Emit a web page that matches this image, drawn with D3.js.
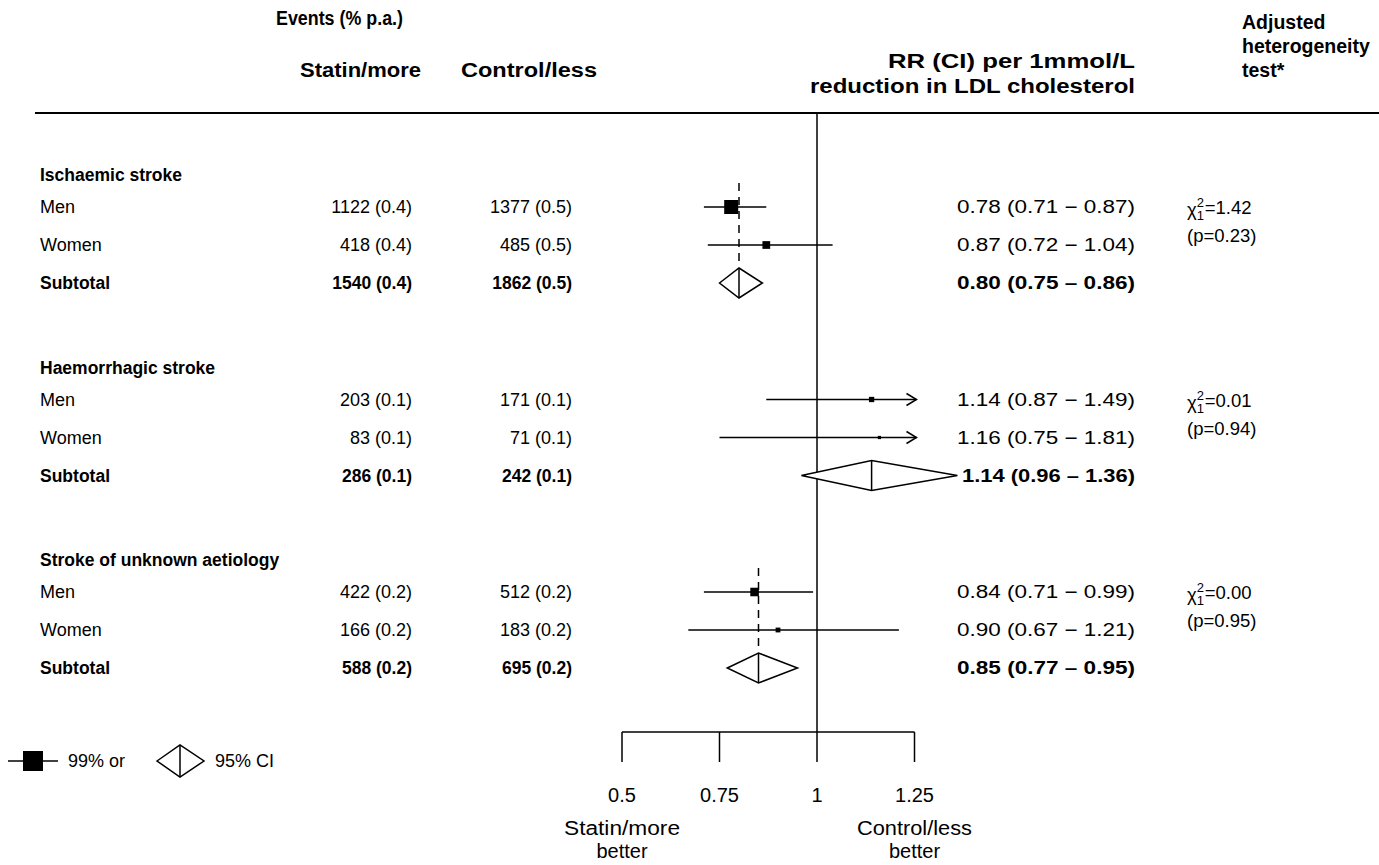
<!DOCTYPE html>
<html>
<head>
<meta charset="utf-8">
<script src="https://cdn.jsdelivr.net/npm/d3@7"></script>
<style>
  html, body { margin: 0; padding: 0; background: #fff; }
  svg { display: block; font-family: "Liberation Sans", Arial, sans-serif; }
</style>
</head>
<body>
<svg id="chart" width="1379" height="865"></svg>
<script>
// ---------------- data ----------------
const groups = ["Ischaemic stroke", "Haemorrhagic stroke", "Stroke of unknown aetiology"];
const rowLabels = ["Men", "Women", "Subtotal"];

const statinEvents = [[1122, 418, 1540], [203, 83, 286], [422, 166, 588]];
const statinPct    = [[0.4, 0.4, 0.4], [0.1, 0.1, 0.1], [0.2, 0.2, 0.2]];
const controlEvents = [[1377, 485, 1862], [171, 71, 242], [512, 183, 695]];
const controlPct    = [[0.5, 0.5, 0.5], [0.1, 0.1, 0.1], [0.2, 0.2, 0.2]];

const rrEst = [[0.78, 0.87, 0.80], [1.14, 1.16, 1.14], [0.84, 0.90, 0.85]];
const rrLow = [[0.71, 0.72, 0.75], [0.87, 0.75, 0.96], [0.71, 0.67, 0.77]];
const rrHigh = [[0.87, 1.04, 0.86], [1.49, 1.81, 1.36], [0.99, 1.21, 0.95]];
const showDashed = [true, false, true];

const hetChi2 = ["1.42", "0.01", "0.00"];
const hetP = ["0.23", "0.94", "0.95"];

const axisTicks = [0.5, 0.75, 1, 1.25];
const axisTickLabels = ["0.5", "0.75", "1", "1.25"];

// ---------------- layout ----------------
const svg = d3.select("#chart");
const x = d3.scaleLinear().domain([0.5, 1.25]).range([622, 914.5]);
const xMax = 1.25;
const groupTop = d3.scaleLinear().domain([0, 1]).range([175, 367.5]);
const rowOffset = [32, 70, 108];
const rowY = (g, i) => groupTop(g) + rowOffset[i];
// box side proportional to 1/SE (SE from log CI width)
const boxSide = d3.scaleLinear().domain([0, 1 / Math.log(0.87 / 0.71)]).range([0, 14]);

const FS = 17.5;
const fmt1 = d3.format(".1f");

// helper: text stretched to a given width
function stretch(sel, w) {
  return sel.attr("textLength", w).attr("lengthAdjust", "spacingAndGlyphs");
}

// header
const hdr = svg.append("g").attr("font-weight", "bold").attr("fill", "#000");
stretch(hdr.append("text").attr("x", 276).attr("y", 25).attr("font-size", 20).text("Events (% p.a.)"), 127);
stretch(hdr.append("text").attr("x", 300).attr("y", 77).attr("font-size", 19.5).text("Statin/more"), 121);
stretch(hdr.append("text").attr("x", 461).attr("y", 77).attr("font-size", 19.5).text("Control/less"), 136);
stretch(hdr.append("text").attr("x", 888).attr("y", 68).attr("font-size", 19.5).text("RR (CI) per 1mmol/L"), 247);
stretch(hdr.append("text").attr("x", 810).attr("y", 93).attr("font-size", 19.5).text("reduction in LDL cholesterol"), 325);
hdr.append("text").attr("x", 1242).attr("y", 29).attr("font-size", 19.5).text("Adjusted");
hdr.append("text").attr("x", 1242).attr("y", 53).attr("font-size", 19.5).text("heterogeneity");
hdr.append("text").attr("x", 1242).attr("y", 77).attr("font-size", 19.5).text("test*");

svg.append("line").attr("x1", 35).attr("x2", 1379).attr("y1", 113).attr("y2", 113)
  .attr("stroke", "#000").attr("stroke-width", 2);

const axisY = 732;
// reference line at 1
svg.append("line").attr("x1", x(1)).attr("x2", x(1)).attr("y1", 113).attr("y2", axisY)
  .attr("stroke", "#000").attr("stroke-width", 1.5);

// rows
groups.forEach((gName, g) => {
  const gy = groupTop(g);
  svg.append("text").attr("x", 40).attr("y", gy + 6).attr("font-size", FS).attr("font-weight", "bold").text(gName);

  rowLabels.forEach((lab, i) => {
    const y = rowY(g, i);
    const bold = i === 2 ? "bold" : "normal";
    const fs = i === 2 ? FS : 18;
    const t = svg.append("g").attr("font-size", fs).attr("font-weight", bold);
    t.append("text").attr("x", 40).attr("y", y + 6).text(lab);
    t.append("text").attr("x", 412).attr("y", y + 6).attr("text-anchor", "end")
      .text(`${statinEvents[g][i]} (${fmt1(statinPct[g][i])})`);
    t.append("text").attr("x", 572).attr("y", y + 6).attr("text-anchor", "end")
      .text(`${controlEvents[g][i]} (${fmt1(controlPct[g][i])})`);
    const dash = i === 2 ? "\u2013" : "\u2212";
    const rrW = (g === 1 && i === 2) ? 173 : 178;
    stretch(t.append("text").attr("x", 1135 - rrW).attr("y", y + 6).attr("font-size", 18)
      .text(`${rrEst[g][i].toFixed(2)} (${rrLow[g][i].toFixed(2)} ${dash} ${rrHigh[g][i].toFixed(2)})`), rrW);

    if (i < 2) {
      const lo = rrLow[g][i], hi = rrHigh[g][i];
      const clipped = hi > xMax;
      const xr = clipped ? x(xMax) + 2 : x(hi);
      svg.append("line").attr("x1", x(lo)).attr("x2", xr).attr("y1", y).attr("y2", y)
        .attr("stroke", "#000").attr("stroke-width", 1.5);
      if (clipped) {
        svg.append("path").attr("d", `M${xr - 10},${y - 6} L${xr},${y} L${xr - 10},${y + 6}`)
          .attr("fill", "none").attr("stroke", "#000").attr("stroke-width", 1.5);
      }
      const s = boxSide(1 / Math.log(hi / lo));
      svg.append("rect").attr("x", x(rrEst[g][i]) - s / 2).attr("y", y - s / 2)
        .attr("width", s).attr("height", s).attr("fill", "#000");
    } else {
      const cx = x(rrEst[g][i]), h = 15;
      svg.append("path")
        .attr("d", `M${x(rrLow[g][i])},${y} L${cx},${y - h} L${x(rrHigh[g][i])},${y} L${cx},${y + h} Z`)
        .attr("fill", "#fff").attr("stroke", "#000").attr("stroke-width", 1.5);
      svg.append("line").attr("x1", cx).attr("x2", cx).attr("y1", y - h).attr("y2", y + h)
        .attr("stroke", "#000").attr("stroke-width", 1.5);
      if (showDashed[g]) {
        svg.append("line").attr("x1", cx).attr("x2", cx).attr("y1", rowY(g, 0) - 24).attr("y2", y - h - 2)
          .attr("stroke", "#000").attr("stroke-width", 1.5).attr("stroke-dasharray", "8,6");
      }
    }
  });

  // heterogeneity test
  const hy = rowY(g, 0) + 7;
  const hx = 1187;
  const HF = 18.5;
  const chi = svg.append("text").attr("x", hx).attr("y", hy + 2).attr("font-size", HF).text("\u03c7");
  const cw = chi.node().getComputedTextLength();
  svg.append("text").attr("x", hx + cw).attr("y", hy - 7).attr("font-size", 13).text("2");
  svg.append("text").attr("x", hx + cw).attr("y", hy + 6).attr("font-size", 13).text("1");
  svg.append("text").attr("x", hx + cw + 8).attr("y", hy).attr("font-size", HF).text(`=${hetChi2[g]}`);
  svg.append("text").attr("x", hx).attr("y", hy + 28).attr("font-size", HF).text(`(p=${hetP[g]})`);
});

// axis
const axisG = svg.append("g");
axisG.append("line").attr("x1", x(axisTicks[0])).attr("x2", x(axisTicks[axisTicks.length - 1]))
  .attr("y1", axisY).attr("y2", axisY).attr("stroke", "#000").attr("stroke-width", 1.5);
axisTicks.forEach((t, k) => {
  axisG.append("line").attr("x1", x(t)).attr("x2", x(t)).attr("y1", axisY).attr("y2", axisY + 30)
    .attr("stroke", "#000").attr("stroke-width", 1.5);
  axisG.append("text").attr("x", x(t)).attr("y", 802).attr("text-anchor", "middle")
    .attr("font-size", 20).text(axisTickLabels[k]);
});
function centeredStretch(txt, cx, y, w, fs) {
  stretch(axisG.append("text").attr("x", cx - w / 2).attr("y", y).attr("font-size", fs).text(txt), w);
}
centeredStretch("Statin/more", x(0.5), 835, 116, 20);
axisG.append("text").attr("x", x(0.5)).attr("y", 858).attr("text-anchor", "middle").attr("font-size", 20).text("better");
centeredStretch("Control/less", x(1.25), 835, 115, 20);
axisG.append("text").attr("x", x(1.25)).attr("y", 858).attr("text-anchor", "middle").attr("font-size", 20).text("better");

// legend
const lg = svg.append("g");
const ly = 761;
lg.append("line").attr("x1", 8).attr("x2", 58).attr("y1", ly).attr("y2", ly).attr("stroke", "#000").attr("stroke-width", 1.5);
lg.append("rect").attr("x", 23).attr("y", ly - 10).attr("width", 20).attr("height", 20).attr("fill", "#000");
lg.append("text").attr("x", 68).attr("y", ly + 6).attr("font-size", 18).text("99% or");
lg.append("path").attr("d", `M157,${ly} L180,${ly - 16} L204,${ly} L180,${ly + 16} Z`)
  .attr("fill", "#fff").attr("stroke", "#000").attr("stroke-width", 1.5);
lg.append("line").attr("x1", 180).attr("x2", 180).attr("y1", ly - 16).attr("y2", ly + 16).attr("stroke", "#000").attr("stroke-width", 1.5);
lg.append("text").attr("x", 215).attr("y", ly + 6).attr("font-size", 18).text("95% CI");
</script>
</body>
</html>
